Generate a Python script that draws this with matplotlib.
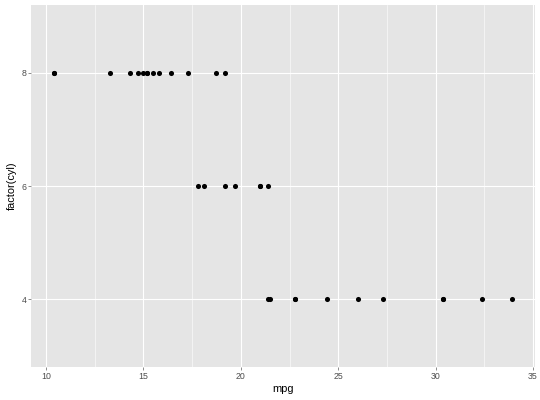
import numpy as np
import matplotlib
matplotlib.use('Agg')
import matplotlib.pyplot as plt

plt.rcParams['font.family'] = ['Liberation Sans', 'DejaVu Sans']

# mtcars: mpg and cyl
mpg = [21.0, 21.0, 22.8, 21.4, 18.7, 18.1, 14.3, 24.4, 22.8, 19.2, 17.8,
       16.4, 17.3, 15.2, 10.4, 10.4, 14.7, 32.4, 30.4, 33.9, 21.5, 15.5,
       15.2, 13.3, 19.2, 27.3, 26.0, 30.4, 15.8, 19.7, 15.0, 21.4]
cyl = [6, 6, 4, 6, 8, 6, 8, 4, 4, 6, 6, 8, 8, 8, 8, 8, 8, 4, 4, 4, 4, 8,
       8, 8, 8, 4, 4, 4, 8, 6, 8, 4]

levels = sorted(set(cyl))
ypos = [levels.index(c) + 1 for c in cyl]

fig = plt.figure(figsize=(7.5, 400 / 72), dpi=72)
ax = fig.add_axes([31 / 540, 33 / 400, 503.5 / 540, 362 / 400])
ax.set_facecolor('#E5E5E5')
for s in ax.spines.values():
    s.set_visible(False)

xmin, xmax = min(mpg), max(mpg)
pad = (xmax - xmin) * 0.05
ax.set_xlim(xmin - pad, xmax + pad)
ax.set_ylim(0.4, len(levels) + 0.6)

ax.set_xticks([10, 15, 20, 25, 30, 35])
ax.set_xticks([12.5, 17.5, 22.5, 27.5, 32.5], minor=True)
ax.set_yticks(range(1, len(levels) + 1))
ax.set_yticklabels([str(l) for l in levels])

ax.grid(which='major', color='white', linewidth=1.1)
ax.grid(which='minor', axis='x', color='white', linewidth=0.55)
ax.set_axisbelow(True)

ax.tick_params(which='major', length=2.75, width=0.55, color='#333333',
               labelsize=8.8, labelcolor='#4D4D4D', pad=2)
ax.tick_params(which='minor', length=0)

ax.scatter(mpg, ypos, s=26, color='black', zorder=3, linewidths=0)

ax.set_xlabel('mpg', fontsize=11, labelpad=3)
ax.set_ylabel('factor(cyl)', fontsize=11, labelpad=4)

fig.savefig('out.png', dpi=72)
